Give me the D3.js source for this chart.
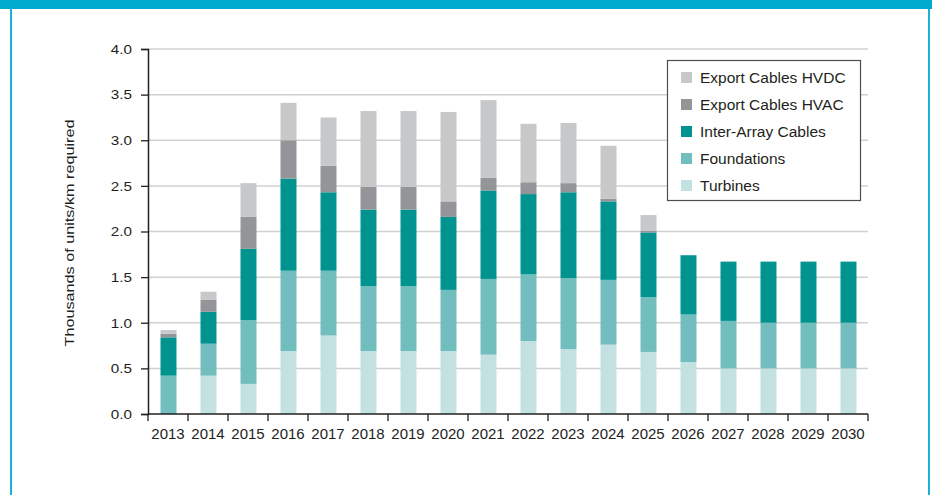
<!DOCTYPE html>
<html>
<head>
<meta charset="utf-8">
<script src="https://cdn.jsdelivr.net/npm/d3@7"></script>
<style>
  html, body { margin: 0; padding: 0; background: #fff; }
  svg { display: block; font-family: "Liberation Sans", Arial, Helvetica, sans-serif; }
</style>
</head>
<body>
<svg id="chart" width="932" height="495"></svg>
<script>
const years = ["2013","2014","2015","2016","2017","2018","2019","2020","2021","2022","2023","2024","2025","2026","2027","2028","2029","2030"];
const turbines    = [0.00, 0.42, 0.33, 0.69, 0.86, 0.69, 0.69, 0.69, 0.65, 0.80, 0.71, 0.76, 0.68, 0.57, 0.50, 0.50, 0.50, 0.50];
const foundations = [0.42, 0.35, 0.70, 0.88, 0.71, 0.71, 0.71, 0.67, 0.83, 0.73, 0.78, 0.71, 0.60, 0.52, 0.52, 0.50, 0.50, 0.50];
const interArray  = [0.42, 0.35, 0.78, 1.01, 0.86, 0.84, 0.84, 0.80, 0.97, 0.88, 0.94, 0.86, 0.71, 0.65, 0.65, 0.67, 0.67, 0.67];
const exportHVAC  = [0.04, 0.13, 0.35, 0.42, 0.29, 0.25, 0.25, 0.17, 0.14, 0.13, 0.10, 0.03, 0.02, 0.00, 0.00, 0.00, 0.00, 0.00];
const exportHVDC  = [0.04, 0.09, 0.37, 0.41, 0.53, 0.83, 0.83, 0.98, 0.85, 0.64, 0.66, 0.58, 0.17, 0.00, 0.00, 0.00, 0.00, 0.00];
const yTicks = [0, 0.5, 1.0, 1.5, 2.0, 2.5, 3.0, 3.5, 4.0];
const seriesNames = ["Turbines", "Foundations", "Inter-Array Cables", "Export Cables HVAC", "Export Cables HVDC"];
const seriesColors = ["#c4e1e2", "#72bdbe", "#00938f", "#939598", "#c7c8ca"];
const yLabel = "Thousands of units/km required";

const seriesData = [turbines, foundations, interArray, exportHVAC, exportHVDC];
const table = years.map((yr, i) => {
  const row = { year: yr };
  seriesNames.forEach((n, k) => row[n] = seriesData[k][i]);
  return row;
});

const svg = d3.select("#chart");

// frame
svg.append("rect").attr("x", 0).attr("y", 0).attr("width", 932).attr("height", 9).attr("fill", "#00a9ce");
svg.append("rect").attr("x", 10).attr("y", 9).attr("width", 2).attr("height", 486).attr("fill", "#1bb1d6");
svg.append("rect").attr("x", 928).attr("y", 9).attr("width", 2).attr("height", 486).attr("fill", "#1bb1d6");

const plotLeft = 148, plotRight = 868, plotTop = 49, plotBottom = 414;

const x = d3.scaleBand().domain(years).range([plotLeft, plotRight]).paddingInner(0.6).paddingOuter(0.3);
const y = d3.scaleLinear().domain([0, 4]).range([plotBottom, plotTop]);

// gridlines
svg.append("g").selectAll("line").data(yTicks.filter(t => t > 0)).join("line")
  .attr("x1", plotLeft).attr("x2", plotRight)
  .attr("y1", d => y(d)).attr("y2", d => y(d))
  .attr("stroke", "#d0d0d0").attr("stroke-width", 1.5);

// bars
const stacked = d3.stack().keys(seriesNames)(table);
svg.append("g").selectAll("g").data(stacked).join("g")
  .attr("fill", (d, i) => seriesColors[i])
  .selectAll("rect").data(d => d).join("rect")
  .attr("x", d => x(d.data.year) + 0.5)
  .attr("width", x.bandwidth())
  .attr("y", d => y(d[1]))
  .attr("height", d => Math.max(0, y(d[0]) - y(d[1])));

// y axis
const yAxis = svg.append("g").attr("transform", `translate(${plotLeft},0)`)
  .call(d3.axisLeft(y).tickValues(yTicks).tickFormat(d3.format(".1f")).tickSize(7).tickPadding(9));
yAxis.select(".domain").attr("stroke", "#231f20").attr("stroke-width", 1.5);
yAxis.selectAll(".tick line").attr("stroke", "#231f20").attr("stroke-width", 1.3);
yAxis.selectAll(".tick text")
  .attr("fill", "#231f20")
  .style("font-size", "12px")
  .attr("x", -16 / 1.27)
  .attr("transform", "scale(1.27,1)")
  .attr("dy", "0.36em");

// x axis
const xAxis = svg.append("g").attr("transform", `translate(0,${plotBottom})`);
xAxis.append("line").attr("x1", plotLeft).attr("x2", plotRight).attr("stroke", "#231f20").attr("stroke-width", 1.5);
const boundaries = years.map(d => x(d) - x.step() * 0.3).concat([plotRight]);
xAxis.selectAll("line.tk").data(boundaries).join("line").attr("class", "tk")
  .attr("x1", d => d).attr("x2", d => d).attr("y1", 0).attr("y2", 7)
  .attr("stroke", "#231f20").attr("stroke-width", 1.3);
xAxis.selectAll("text").data(years).join("text")
  .attr("x", d => x(d) + x.bandwidth() / 2)
  .attr("y", 25)
  .attr("text-anchor", "middle")
  .attr("fill", "#231f20")
  .style("font-size", "15px")
  .text(d => d);

// y label
svg.append("text")
  .attr("transform", "translate(74,233) rotate(-90)")
  .attr("text-anchor", "middle")
  .attr("fill", "#231f20")
  .style("font-size", "12.5px")
  .attr("textLength", 227)
  .attr("lengthAdjust", "spacingAndGlyphs")
  .text(yLabel);

// legend
const lg = svg.append("g");
lg.append("rect").attr("x", 667.5).attr("y", 60.5).attr("width", 193).attr("height", 140)
  .attr("fill", "#fff").attr("stroke", "#4d4d4f").attr("stroke-width", 1.2);
const legendOrder = [4, 3, 2, 1, 0];
const rows = lg.selectAll("g.row").data(legendOrder).join("g").attr("class", "row")
  .attr("transform", (d, i) => `translate(681,${77.5 + i * 27})`);
rows.append("rect").attr("x", 0).attr("y", -5.5).attr("width", 11).attr("height", 11)
  .attr("fill", d => seriesColors[d]);
rows.append("text").attr("x", 19).attr("y", 5.5)
  .attr("fill", "#231f20").style("font-size", "15.5px")
  .text(d => seriesNames[d]);
</script>
</body>
</html>
